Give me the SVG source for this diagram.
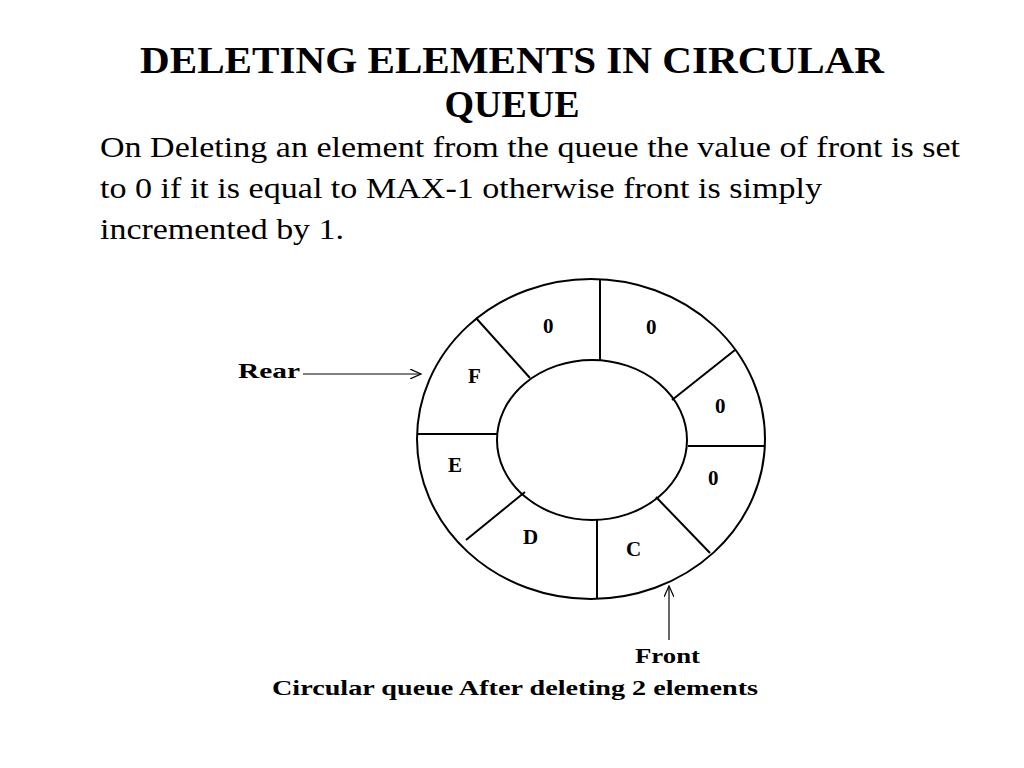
<svg xmlns="http://www.w3.org/2000/svg" width="1024" height="768" viewBox="0 0 1024 768">
<defs><marker id="ah" markerWidth="12" markerHeight="10" refX="11" refY="5" orient="auto" markerUnits="userSpaceOnUse"><path d="M0,0 L11,5 L0,10" fill="none" stroke="#000" stroke-width="1.2"/></marker></defs>
<style>.t{font-family:"Liberation Serif",serif;fill:#000}.d{font-family:"Liberation Serif",serif;font-weight:bold;font-size:21px;fill:#000}.s{stroke:#000;stroke-width:2;fill:none}</style>
<rect width="1024" height="768" fill="#fff"/>
<text class="t" x="140" y="73" font-size="38" font-weight="bold" textLength="744" lengthAdjust="spacingAndGlyphs">DELETING ELEMENTS IN CIRCULAR</text>
<text class="t" x="512" y="117" font-size="38" font-weight="bold" text-anchor="middle">QUEUE</text>
<text class="t" font-size="29" x="100" y="157" textLength="860" lengthAdjust="spacingAndGlyphs">On Deleting an element from the queue the value of front is set</text>
<text class="t" font-size="29" x="100" y="198" textLength="722" lengthAdjust="spacingAndGlyphs">to 0 if it is equal to MAX-1 otherwise front is simply</text>
<text class="t" font-size="29" x="100" y="239" textLength="244" lengthAdjust="spacingAndGlyphs">incremented by 1.</text>
<g id="queue">
<ellipse class="s" cx="591" cy="439" rx="174" ry="160"/>
<ellipse class="s" cx="592" cy="440" rx="95" ry="80"/>
<path class="s" d="M600,280V360M417,434H497M688,446H765M597,520V598M476,318L530,378M735,350L672,400M656,497L710,553M466,540L525,492"/>
<g class="d"><text x="543" y="333">0</text><text x="646" y="334">0</text><text x="715" y="413">0</text><text x="708" y="485">0</text><text x="468" y="383">F</text><text x="448" y="472">E</text><text x="523" y="544">D</text><text x="626" y="556">C</text></g>
</g>
<g id="connectors">
<line x1="303" y1="374" x2="421" y2="374" stroke="#000" stroke-width="1.2" marker-end="url(#ah)"/>
<line x1="669" y1="640" x2="669" y2="586" stroke="#000" stroke-width="1.2" marker-end="url(#ah)"/>
</g>
<text class="d" x="238" y="378" textLength="62" lengthAdjust="spacingAndGlyphs">Rear</text>
<text class="d" x="635" y="663" textLength="65" lengthAdjust="spacingAndGlyphs">Front</text>
<text class="d" x="272" y="695" textLength="486" lengthAdjust="spacingAndGlyphs">Circular queue After deleting 2 elements</text>
</svg>
